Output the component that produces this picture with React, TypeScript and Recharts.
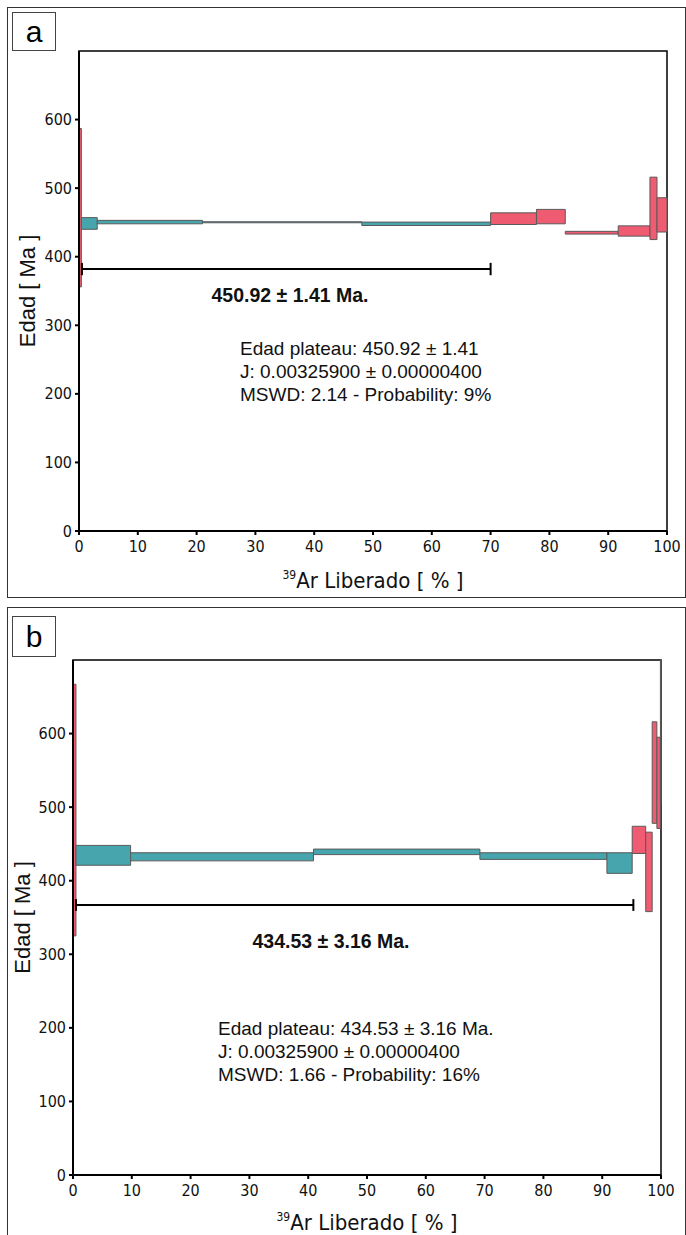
import React from "react";
import {
  ComposedChart,
  Line,
  XAxis,
  YAxis,
  ReferenceArea,
  ReferenceLine,
  Label,
} from "recharts";

// step-heating steps, panel a
const fromA = [0, 0.4, 3.1, 21, 48.1, 70, 77.8, 82.7, 91.7, 97.1, 98.3];
const toA = [0.4, 3.1, 21, 48.1, 70, 77.8, 82.7, 91.7, 97.1, 98.3, 100];
const minA = [356, 440, 448, 449.5, 445.5, 447, 448, 433, 430, 425, 436];
const maxA = [587, 457, 453, 451, 450.5, 464, 469, 437, 445, 516, 486];
const plateauA = [false, true, true, true, true, false, false, false, false, false, false];
const barA = [{ x: 0.5, y: 382 }, { x: 70, y: 382 }];

// step-heating steps, panel b
const fromB = [0, 0.5, 9.8, 40.9, 69.2, 90.8, 95.1, 97.4, 98.5, 99.3, 99.9];
const toB = [0.5, 9.8, 40.9, 69.2, 90.8, 95.1, 97.4, 98.5, 99.3, 99.9, 100];
const minB = [325, 421, 427, 435.5, 429, 410, 437, 358, 478, 471, 505];
const maxB = [667, 448, 438, 443, 438, 438, 474, 466, 616, 595, 760];
const plateauB = [false, true, true, true, true, true, false, false, false, false, false];
const barB = [{ x: 0.5, y: 367 }, { x: 95.3, y: 367 }];

const xTicks = [0, 10, 20, 30, 40, 50, 60, 70, 80, 90, 100];
const yTicks = [0, 100, 200, 300, 400, 500, 600];

const textA = [
  "Edad plateau: 450.92 ± 1.41",
  "J: 0.00325900 ± 0.00000400",
  "MSWD: 2.14 - Probability: 9%",
];
const textB = [
  "Edad plateau: 434.53 ± 3.16 Ma.",
  "J: 0.00325900 ± 0.00000400",
  "MSWD: 1.66 - Probability: 16%",
];

const TEAL = "#46a5ad";
const RED = "#ef5b70";
const narrow = "'DejaVu Sans Condensed', 'Liberation Sans', Arial, sans-serif";
const sans = "'Liberation Sans', Arial, sans-serif";

const XTick = (props: any) => {
  const { x, y, payload } = props;
  return (
    <text x={x} y={y + 15} textAnchor="middle" fontSize={16} fontFamily={narrow} fill="#111">
      {payload.value}
    </text>
  );
};

const YTick = (props: any) => {
  const { x, y, payload } = props;
  return (
    <text x={x} y={y + 5.5} textAnchor="end" fontSize={16} fontFamily={narrow} fill="#111">
      {payload.value}
    </text>
  );
};

interface PanelProps {
  width: number;
  height: number;
  margin: { top: number; right: number; left: number; bottom: number };
  yAxisWidth: number;
  xAxisHeight: number;
  from: number[];
  to: number[];
  min: number[];
  max: number[];
  plateau: boolean[];
  bar: { x: number; y: number }[];
  capHalf: number;
  yLabelX: number;
  xLabelDy: number;
}

const Panel: React.FC<PanelProps> = (p) => {
  return (
    <ComposedChart width={p.width} height={p.height} margin={p.margin} data={p.bar}>
      <XAxis
        type="number"
        dataKey="x"
        domain={[0, 100]}
        ticks={xTicks}
        interval={0}
        height={p.xAxisHeight}
        axisLine={{ stroke: "#000", strokeWidth: 2 }}
        tickLine={{ stroke: "#000", strokeWidth: 2 }}
        tickSize={4}
        tickMargin={2}
        tick={<XTick />}
        allowDataOverflow
      >
        <Label
          content={(props: any) => {
            const vb = props.viewBox;
            const cx = vb.x + vb.width / 2;
            return (
              <text x={cx} y={vb.y + p.xLabelDy} textAnchor="middle" fontFamily={narrow} fill="#111">
                <tspan fontSize={12} dy={-9}>39</tspan>
                <tspan fontSize={22} dy={9}>Ar Liberado [ % ]</tspan>
              </text>
            );
          }}
        />
      </XAxis>
      <YAxis
        type="number"
        domain={[0, 700]}
        ticks={yTicks}
        interval={0}
        width={p.yAxisWidth}
        axisLine={{ stroke: "#000", strokeWidth: 2 }}
        tickLine={{ stroke: "#000", strokeWidth: 2 }}
        tickSize={4}
        tickMargin={3}
        tick={<YTick />}
        allowDataOverflow
      >
        <Label
          content={(props: any) => {
            const vb = props.viewBox;
            const cy = vb.y + vb.height / 2;
            return (
              <text
                x={p.yLabelX}
                y={cy}
                transform={`rotate(-90 ${p.yLabelX} ${cy})`}
                textAnchor="middle"
                dominantBaseline="central"
                fontSize={22}
                fontFamily={sans}
                fill="#111"
              >
                Edad [ Ma ]
              </text>
            );
          }}
        />
      </YAxis>
      <ReferenceArea
        x1={0}
        x2={100}
        y1={0}
        y2={700}
        fill="none"
        stroke="#000"
        strokeWidth={1.5}
        ifOverflow="visible"
      />
      {p.from.map((f, i) => (
        <ReferenceArea
          key={i}
          x1={f}
          x2={p.to[i]}
          y1={p.min[i]}
          y2={Math.min(p.max[i], 700)}
          fill={p.plateau[i] ? TEAL : RED}
          fillOpacity={1}
          stroke="#5a5a5a"
          strokeWidth={1}
          ifOverflow="visible"
        />
      ))}
      <Line
        type="linear"
        dataKey="y"
        stroke="#000"
        strokeWidth={2}
        dot={false}
        activeDot={false}
        isAnimationActive={false}
      />
      {p.bar.map((b, i) => (
        <ReferenceLine
          key={"cap" + i}
          segment={[
            { x: b.x, y: b.y - p.capHalf },
            { x: b.x, y: b.y + p.capHalf },
          ]}
          stroke="#000"
          strokeWidth={2}
          ifOverflow="visible"
        />
      ))}
    </ComposedChart>
  );
};

const boxStyle: React.CSSProperties = {
  position: "absolute",
  border: "1px solid #444",
  background: "#fff",
  fontFamily: sans,
  fontSize: 30,
  display: "flex",
  alignItems: "center",
  justifyContent: "center",
  boxSizing: "border-box",
};

const App: React.FC = () => {
  return (
    <div style={{ position: "relative", width: 686, height: 1235, overflow: "hidden", background: "#fff" }}>
      <style>{"body{margin:0}"}</style>
      <div
        style={{
          position: "absolute",
          left: 7,
          top: 7,
          width: 679,
          height: 591,
          border: "1.5px solid #333",
          boxSizing: "border-box",
        }}
      />
      <div
        style={{
          position: "absolute",
          left: 7,
          top: 607,
          width: 679,
          height: 660,
          border: "1.5px solid #333",
          boxSizing: "border-box",
        }}
      />
      <div style={{ position: "absolute", left: 0, top: 0 }}>
        <Panel
          width={686}
          height={600}
          margin={{ top: 51, right: 19, left: 0, bottom: 0 }}
          yAxisWidth={79}
          xAxisHeight={69}
          from={fromA}
          to={toA}
          min={minA}
          max={maxA}
          plateau={plateauA}
          bar={barA}
          capHalf={9}
          yLabelX={27}
          xLabelDy={57}
        />
      </div>
      <div style={{ position: "absolute", left: 0, top: 607 }}>
        <Panel
          width={686}
          height={628}
          margin={{ top: 53, right: 25, left: 0, bottom: 0 }}
          yAxisWidth={73}
          xAxisHeight={60}
          from={fromB}
          to={toB}
          min={minB}
          max={maxB}
          plateau={plateauB}
          bar={barB}
          capHalf={8}
          yLabelX={22}
          xLabelDy={55}
        />
      </div>
      <div style={{ ...boxStyle, left: 12, top: 12, width: 44, height: 39 }}>a</div>
      <div style={{ ...boxStyle, left: 12, top: 616, width: 44, height: 41 }}>b</div>

      <div
        style={{
          position: "absolute",
          left: 165,
          top: 284,
          width: 250,
          textAlign: "center",
          fontFamily: sans,
          fontWeight: "bold",
          fontSize: 19.5,
          color: "#111",
        }}
      >
        450.92 ± 1.41 Ma.
      </div>
      <div
        style={{
          position: "absolute",
          left: 240,
          top: 337,
          fontFamily: sans,
          fontSize: 19,
          lineHeight: "23px",
          color: "#111",
          whiteSpace: "nowrap",
        }}
      >
        {textA.map((t) => (
          <div key={t}>{t}</div>
        ))}
      </div>

      <div
        style={{
          position: "absolute",
          left: 206,
          top: 930,
          width: 250,
          textAlign: "center",
          fontFamily: sans,
          fontWeight: "bold",
          fontSize: 19.5,
          color: "#111",
        }}
      >
        434.53 ± 3.16 Ma.
      </div>
      <div
        style={{
          position: "absolute",
          left: 218,
          top: 1017,
          fontFamily: sans,
          fontSize: 19,
          lineHeight: "23px",
          color: "#111",
          whiteSpace: "nowrap",
        }}
      >
        {textB.map((t) => (
          <div key={t}>{t}</div>
        ))}
      </div>
    </div>
  );
};

export default App;
